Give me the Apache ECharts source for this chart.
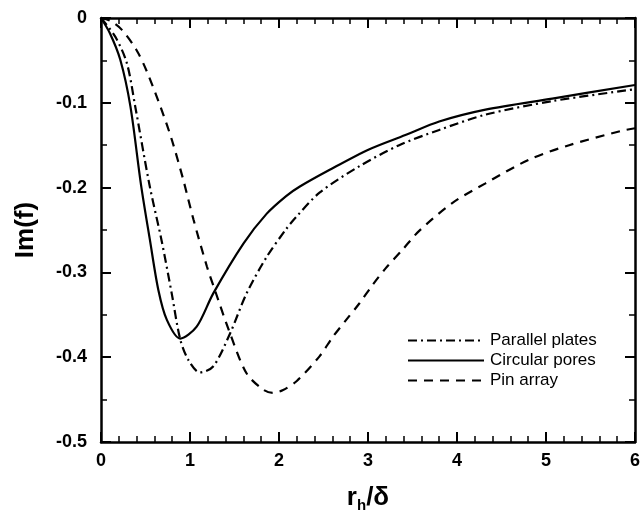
<!DOCTYPE html>
<html>
<head>
<meta charset="utf-8">
<script src="https://cdn.jsdelivr.net/npm/echarts@6/dist/echarts.min.js"></script>
<style>
  html, body { margin: 0; padding: 0; background: #fff; }
  #chart { width: 640px; height: 513px; }
</style>
</head>
<body>
<div id="chart"></div>
<script>
// values, [r_h/delta, Im(f)]
const parallelPlates = [
  [0, 0], [0.16, -0.022], [0.29, -0.053], [0.384, -0.104], [0.545, -0.197],
  [0.68, -0.262], [0.795, -0.325], [0.888, -0.378], [0.98, -0.403], [1.11, -0.418],
  [1.26, -0.411], [1.45, -0.372], [1.635, -0.325], [1.86, -0.282], [2.08, -0.249],
  [2.19, -0.235], [2.455, -0.206], [2.9, -0.175], [3.35, -0.15], [3.8, -0.132],
  [4.32, -0.114], [5.07, -0.098], [6, -0.084]
];
const circularPores = [
  [0, 0], [0.1, -0.018], [0.216, -0.049], [0.33, -0.104], [0.45, -0.197],
  [0.55, -0.262], [0.645, -0.321], [0.74, -0.356], [0.89, -0.378], [1.075, -0.364],
  [1.26, -0.325], [1.6, -0.266], [1.86, -0.231],
  [2.08, -0.21], [2.23, -0.199], [2.57, -0.179], [3.01, -0.155], [3.42, -0.138],
  [3.8, -0.122], [4.32, -0.108], [5.07, -0.095], [6, -0.079]
];
const pinArray = [
  [0, 0], [0.1, -0.003], [0.235, -0.014], [0.4, -0.038], [0.515, -0.063],
  [0.68, -0.108], [0.8, -0.145], [0.925, -0.191], [1.04, -0.238], [1.19, -0.293],
  [1.28, -0.321], [1.45, -0.372], [1.635, -0.419], [1.82, -0.438], [1.93, -0.442],
  [2.04, -0.439], [2.2, -0.428], [2.455, -0.399], [2.605, -0.376], [2.755, -0.356],
  [2.9, -0.337], [3.05, -0.315], [3.2, -0.295], [3.39, -0.273], [3.575, -0.251],
  [3.95, -0.218], [4.32, -0.195], [4.81, -0.167], [5.26, -0.15], [5.85, -0.133],
  [6, -0.13]
];
const seriesNames = ['Parallel plates', 'Circular pores', 'Pin array'];

const font = 'Liberation Sans, Arial, sans-serif';
const axisLine = { show: true, onZero: false, lineStyle: { color: '#000', width: 2.5 } };
const tick = { show: true, inside: true, length: 10, lineStyle: { color: '#000', width: 2 } };
const minor = { show: true, length: 6, lineStyle: { color: '#000', width: 1.5 } };

function lineSeries(name, data, type) {
  return {
    name: name,
    type: 'line',
    data: data,
    smooth: 0.3,
    symbol: 'none',
    showSymbol: false,
    lineStyle: { color: '#000', width: 2.2, type: type },
    itemStyle: { color: '#000' }
  };
}

const chart = echarts.init(document.getElementById('chart'));
chart.setOption({
  animation: false,
  backgroundColor: '#fff',
  grid: { left: 101, right: 5, top: 18, bottom: 71, outerBoundsMode: 'none' },
  legend: {
    orient: 'vertical',
    left: 402,
    top: 327,
    itemWidth: 76,
    itemHeight: 17,
    itemGap: 3,
    data: seriesNames,
    itemStyle: { opacity: 0 },
    textStyle: { fontFamily: font, fontSize: 17, color: '#000', padding: [0, 0, 0, 1] }
  },
  xAxis: [
    {
      type: 'value', min: 0, max: 6, interval: 1,
      axisLine: axisLine, axisTick: tick, minorTick: Object.assign({ splitNumber: 5 }, minor),
      splitLine: { show: false },
      axisLabel: { color: '#000', fontFamily: font, fontWeight: 'bold', fontSize: 18, margin: 10 },
      name: '{a|r}{s|h}{a|/δ}',
      nameLocation: 'middle',
      nameGap: 40,
      nameTextStyle: {
        rich: {
          a: { fontFamily: font, fontWeight: 'bold', fontSize: 26, color: '#000' },
          s: { fontFamily: font, fontWeight: 'bold', fontSize: 15, color: '#000', padding: [16, 0, 0, 0] }
        }
      }
    },
    {
      type: 'value', position: 'top', min: 0, max: 6, interval: 1,
      axisLine: axisLine, axisTick: tick, minorTick: Object.assign({ splitNumber: 5 }, minor),
      splitLine: { show: false }, axisLabel: { show: false }
    }
  ],
  yAxis: [
    {
      type: 'value', min: -0.5, max: 0, interval: 0.1,
      axisLine: axisLine, axisTick: tick, minorTick: Object.assign({ splitNumber: 2 }, minor),
      splitLine: { show: false },
      axisLabel: { color: '#000', fontFamily: font, fontWeight: 'bold', fontSize: 18, margin: 14 },
      name: 'Im(f)',
      nameLocation: 'middle',
      nameGap: 62,
      nameTextStyle: { fontFamily: font, fontWeight: 'bold', fontSize: 26, color: '#000' }
    },
    {
      type: 'value', position: 'right', min: -0.5, max: 0, interval: 0.1,
      axisLine: axisLine, axisTick: tick, minorTick: Object.assign({ splitNumber: 2 }, minor),
      splitLine: { show: false }, axisLabel: { show: false }
    }
  ],
  series: [
    lineSeries(seriesNames[0], parallelPlates, [9, 4, 2, 4]),
    lineSeries(seriesNames[1], circularPores, 'solid'),
    lineSeries(seriesNames[2], pinArray, [9, 7])
  ]
});
</script>
</body>
</html>
